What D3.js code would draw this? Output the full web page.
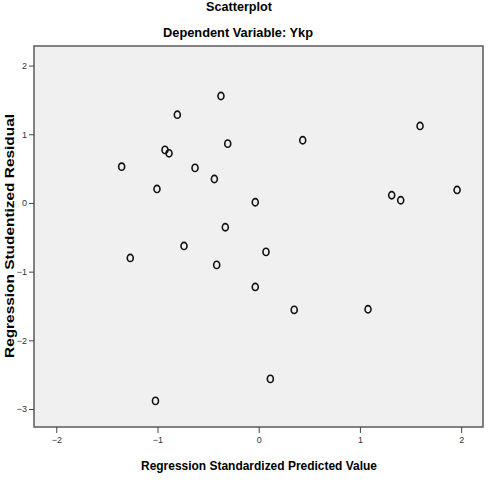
<!DOCTYPE html>
<html><head><meta charset="utf-8">
<script src="https://cdn.jsdelivr.net/npm/d3@7"></script>
<style>body{margin:0;background:#fff}svg{display:block}</style>
</head><body>
<svg id="c" width="491" height="486"></svg>
<script>
const title = "Scatterplot";
const subtitle = "Dependent Variable: Ykp";
const xTitle = "Regression Standardized Predicted Value";
const yTitle = "Regression Studentized Residual";
const xTicks = [-2, -1, 0, 1, 2];
const yTicks = [2, 1, 0, -1, -2, -3];
const predicted = [-0.373, -0.804, -0.306, -0.926, -0.886, -1.354, -0.629, -0.438, -1.005, -0.034,
  -0.330, -0.738, 0.072, -1.269, 0.435, 1.594, 1.314, 1.403, 1.960, -0.415,
  -0.034, 0.351, 0.115, -1.020, 1.080];
const residual = [1.557, 1.285, 0.863, 0.772, 0.723, 0.528, 0.510, 0.349, 0.204, 0.010,
  -0.354, -0.626, -0.713, -0.801, 0.913, 1.121, 0.112, 0.039, 0.189, -0.902,
  -1.223, -1.557, -2.562, -2.882, -1.548];

const svg = d3.select("#c");
const L = 34, R = 483, T = 46, B = 427;
const x = d3.scaleLinear().domain([-2.22, 2.216]).range([L, R]);
const y = d3.scaleLinear().domain([-3.262, 2.285]).range([B, T]);
const font = "'Liberation Sans', Arial, sans-serif";

svg.append("rect").attr("x", L).attr("y", T).attr("width", R - L).attr("height", B - T)
  .attr("fill", "#f0f0f0").attr("stroke", "#5a5a5a").attr("stroke-width", 1.5);

const xa = svg.append("g").attr("transform", `translate(0,${B})`)
  .call(d3.axisBottom(x).tickValues(xTicks).tickSize(6).tickFormat(d3.format("d")));
xa.select(".domain").remove();
xa.selectAll("line").attr("stroke", "#444").attr("stroke-width", 1);
xa.selectAll("text").attr("font-family", font).attr("font-size", 9).attr("fill", "#333").attr("dy", "0.75em").attr("y", 9);

const ya = svg.append("g").attr("transform", `translate(${L},0)`)
  .call(d3.axisLeft(y).tickValues(yTicks).tickSize(5).tickFormat(d3.format("d")));
ya.select(".domain").remove();
ya.selectAll("line").attr("stroke", "#444").attr("stroke-width", 1);
ya.selectAll("text").attr("font-family", font).attr("font-size", 9).attr("fill", "#333").attr("x", -7);

svg.append("g").selectAll("ellipse").data(predicted).join("ellipse")
  .attr("cx", (d) => x(d)).attr("cy", (d, i) => y(residual[i]))
  .attr("rx", 3).attr("ry", 3.6)
  .attr("fill", "none").attr("stroke", "#111").attr("stroke-width", 1.6);

svg.append("text").attr("x", 239).attr("y", 11).attr("text-anchor", "middle")
  .attr("font-family", font).attr("font-weight", "bold").attr("font-size", 12.5)
  .attr("textLength", 66).attr("lengthAdjust", "spacingAndGlyphs").text(title);
svg.append("text").attr("x", 238).attr("y", 37).attr("text-anchor", "middle")
  .attr("font-family", font).attr("font-weight", "bold").attr("font-size", 12.5)
  .attr("textLength", 150).attr("lengthAdjust", "spacingAndGlyphs").text(subtitle);
svg.append("text").attr("x", 259).attr("y", 470).attr("text-anchor", "middle")
  .attr("font-family", font).attr("font-weight", "bold").attr("font-size", 12.5)
  .attr("textLength", 236).attr("lengthAdjust", "spacingAndGlyphs").text(xTitle);
svg.append("text").attr("transform", "translate(14,236) rotate(-90)").attr("text-anchor", "middle")
  .attr("font-family", font).attr("font-weight", "bold").attr("font-size", 12.5)
  .attr("textLength", 244).attr("lengthAdjust", "spacingAndGlyphs").text(yTitle);
</script>
</body></html>
